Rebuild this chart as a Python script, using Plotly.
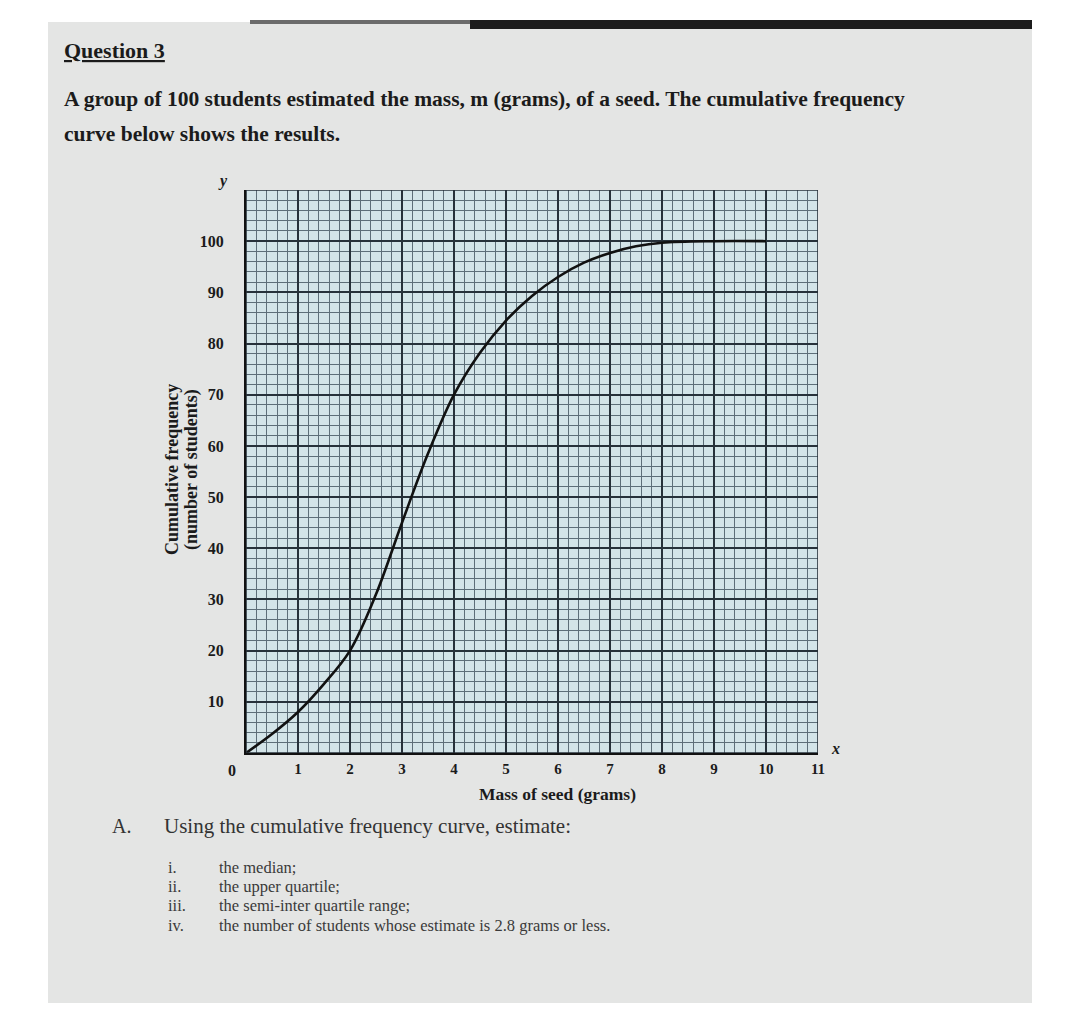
import plotly.graph_objects as go

# ---- data ----
mass_g = [0, 0.5, 1, 1.5, 2, 2.5, 3, 3.5, 4, 4.5, 5, 5.5, 6, 6.5, 7, 7.5, 8, 9, 10]
cum_freq = [0, 3.7, 8, 13.5, 20, 31, 45, 58.5, 70, 78.2, 84.5, 89.3, 93, 95.8, 97.7, 99, 99.7, 100, 100]
x_ticks = [1, 2, 3, 4, 5, 6, 7, 8, 9, 10, 11]
y_ticks = [10, 20, 30, 40, 50, 60, 70, 80, 90, 100]

W, H = 1080, 1030
L, R, T, B = 246, 818, 190, 753  # plot area in pixels


def px(x):
    return (x - L) / (R - L)


def py(y):
    return (B - y) / (B - T)


fig = go.Figure()
fig.add_trace(go.Scatter(
    x=mass_g, y=cum_freq, mode="lines",
    line=dict(color="#111111", width=2.6, shape="spline", smoothing=1.0),
    hoverinfo="skip", showlegend=False,
))

serif = "Liberation Serif, Times New Roman, serif"
txt = "#1b1b1b"

annotations = []


def add_text(x, y, text, size, anchor="left", color=txt, bold=False):
    annotations.append(dict(
        x=px(x), y=py(y), xref="paper", yref="paper", text=(f"<b>{text}</b>" if bold else text),
        showarrow=False, xanchor=anchor, yanchor="middle",
        font=dict(family=serif, size=size, color=color),
    ))


add_text(62, 50, "<u>Question 3</u>", 22, bold=True)
add_text(62, 99, "A group of 100 students estimated the mass, m (grams), of a seed. The cumulative frequency", 21.5, bold=True)
add_text(62, 134, "curve below shows the results.", 21.5, bold=True)

add_text(110, 826, "A.", 20, color="#333333")
add_text(162, 826, "Using the cumulative frequency curve, estimate:", 21, color="#333333")
items = [("i.", "the median;"), ("ii.", "the upper quartile;"),
         ("iii.", "the semi-inter quartile range;"),
         ("iv.", "the number of students whose estimate is 2.8 grams or less.")]
for i, (lab, t) in enumerate(items):
    yy = 867 + i * 19.5
    add_text(166, yy, lab, 16.5, color="#3a3a3a")
    add_text(217, yy, t, 16.5, color="#3a3a3a")

# origin and axis letters
add_text(232, 770, "0", 16, anchor="center", bold=True)
add_text(230, 181, "<i>y</i>", 16, anchor="right", bold=True)
add_text(829, 748, "<i>x</i>", 16, bold=True)
add_text(557, 794, "Mass of seed (grams)", 17.5, anchor="center", bold=True)

# y title (two rotated lines)
for xx, t in [(172, "Cumulative frequency"), (191, "(number of students)")]:
    annotations.append(dict(
        x=px(xx), y=py(470), xref="paper", yref="paper", text=f"<b>{t}</b>",
        showarrow=False, textangle=-90, xanchor="center", yanchor="middle",
        font=dict(family=serif, size=18, color=txt),
    ))

# axis arrows
annotations.append(dict(x=0, y=112.5, xref="x", yref="y", ax=0, ay=40, axref="pixel", ayref="pixel",
                        text="", showarrow=True, arrowhead=2, arrowsize=1.2, arrowwidth=2, arrowcolor="#111"))
annotations.append(dict(x=11.25, y=0, xref="x", yref="y", ax=-30, ay=0, axref="pixel", ayref="pixel",
                        text="", showarrow=True, arrowhead=2, arrowsize=1.2, arrowwidth=2, arrowcolor="#111"))

shapes = [
    # photographed page
    dict(type="rect", xref="paper", yref="paper", x0=px(48), x1=px(1032), y0=py(1003), y1=py(22),
         fillcolor="#e4e5e4", line=dict(width=0), layer="below"),
    # dark edge at top of photo
    dict(type="rect", xref="paper", yref="paper", x0=px(470), x1=px(1032), y0=py(29), y1=py(20),
         fillcolor="#1c1c1c", line=dict(width=0), layer="below"),
    dict(type="rect", xref="paper", yref="paper", x0=px(250), x1=px(470), y0=py(24), y1=py(20),
         fillcolor="#6b6b6b", line=dict(width=0), layer="below"),
    # graph-paper tint inside the plot area
    dict(type="rect", xref="paper", yref="paper", x0=0, x1=1, y0=0, y1=1,
         fillcolor="#d3e4e8", line=dict(width=0), layer="below"),
]

fig.update_layout(
    width=W, height=H,
    margin=dict(l=L, r=W - R, t=T, b=H - B, pad=0),
    paper_bgcolor="#ffffff",
    plot_bgcolor="#d3e4e8",
    annotations=annotations,
    shapes=shapes,
    showlegend=False,
    font=dict(family=serif, color=txt),
)

fig.update_xaxes(
    range=[0, 11], tickvals=x_ticks, ticktext=[str(v) for v in x_ticks],
    showgrid=True, gridcolor="#27313a", gridwidth=1.6,
    minor=dict(dtick=0.2, showgrid=True, gridcolor="#5d6e78", gridwidth=0.7),
    showline=True, linecolor="#111", linewidth=2, mirror=False,
    zeroline=False, ticks="", ticklabelstandoff=1,
    tickfont=dict(family=serif, size=15, color=txt, weight="bold"),
    fixedrange=True,
)
fig.update_yaxes(
    range=[0, 110], tickvals=y_ticks, ticktext=[str(v) for v in y_ticks],
    showgrid=True, gridcolor="#27313a", gridwidth=1.6,
    minor=dict(dtick=2, showgrid=True, gridcolor="#5d6e78", gridwidth=0.7),
    showline=True, linecolor="#111", linewidth=2, mirror=False,
    zeroline=False, ticks="", ticklabelstandoff=17,
    tickfont=dict(family=serif, size=16, color=txt, weight="bold"),
    fixedrange=True,
)

# right/top border of grid as major lines
fig.add_shape(type="rect", xref="x", yref="y", x0=0, x1=11, y0=0, y1=110,
              line=dict(color="#27313a", width=1.6), layer="above")

fig.write_html("out.html")
